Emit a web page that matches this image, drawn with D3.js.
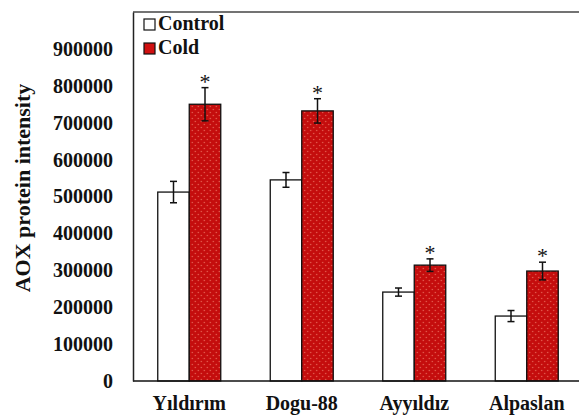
<!DOCTYPE html>
<html>
<head>
<meta charset="utf-8">
<script src="https://cdn.jsdelivr.net/npm/d3@7"></script>
<style>
  body { margin: 0; background: #fff; }
  text { font-family: "Liberation Serif", "Times New Roman", serif; font-weight: bold; fill: #111; }
</style>
</head>
<body>
<div id="chart"></div>
<script>
const cultivars = ["Yıldırım", "Dogu-88", "Ayyıldız", "Alpaslan"];
const groups = ["Control", "Cold"];
const controlValues = [512000, 545000, 241000, 176000];
const controlErrors = [29000, 20000, 11000, 15000];
const coldValues = [750000, 732000, 314000, 298000];
const coldErrors = [45000, 33000, 17000, 24000];
const coldSignificant = [true, true, true, true];
const yTicks = [0, 100000, 200000, 300000, 400000, 500000, 600000, 700000, 800000, 900000];

const width = 579, height = 416;
const margin = {top: 12, right: -4, bottom: 35, left: 133};

const svg = d3.select("#chart")
    .append("svg")
    .attr("width", width)
    .attr("height", height);

// dotted fill for the cold bars
const pattern = svg.append("defs").append("pattern")
    .attr("id", "dots")
    .attr("patternUnits", "userSpaceOnUse")
    .attr("width", 6)
    .attr("height", 6);
pattern.append("rect").attr("width", 6).attr("height", 6).attr("fill", "#c40d0d");
pattern.append("circle").attr("cx", 1.5).attr("cy", 1.5).attr("r", 0.7).attr("fill", "#e86a5a");
pattern.append("circle").attr("cx", 4.5).attr("cy", 4.5).attr("r", 0.7).attr("fill", "#e86a5a");

const x0 = d3.scaleBand()
    .domain(cultivars)
    .range([margin.left, width - margin.right])
    .paddingInner(0.44)
    .paddingOuter(0.22);

const x1 = d3.scaleBand()
    .domain(groups)
    .range([0, x0.bandwidth()]);

const y = d3.scaleLinear()
    .domain([0, 1000000])
    .range([height - margin.bottom, margin.top]);

const data = cultivars.map((c, i) => ({
    name: c,
    bars: [
        {group: "Control", value: controlValues[i], err: controlErrors[i], sig: false},
        {group: "Cold", value: coldValues[i], err: coldErrors[i], sig: coldSignificant[i]}
    ]
}));

// frame: top line
svg.append("line")
    .attr("x1", margin.left).attr("x2", width)
    .attr("y1", margin.top).attr("y2", margin.top)
    .attr("stroke", "#444").attr("stroke-width", 1.5);

const groupSel = svg.append("g")
    .selectAll("g")
    .data(data)
    .enter()
    .append("g")
    .attr("transform", d => "translate(" + x0(d.name) + ",0)");

groupSel.selectAll("rect")
    .data(d => d.bars)
    .enter()
    .append("rect")
    .attr("x", d => x1(d.group))
    .attr("y", d => y(d.value))
    .attr("width", x1.bandwidth())
    .attr("height", d => y(0) - y(d.value))
    .attr("fill", d => d.group === "Cold" ? "url(#dots)" : "#fff")
    .attr("stroke", "#111")
    .attr("stroke-width", 1.3);

// error bars
const errSel = groupSel.selectAll("g.err")
    .data(d => d.bars)
    .enter()
    .append("g")
    .attr("class", "err")
    .attr("transform", d => "translate(" + (x1(d.group) + x1.bandwidth() / 2) + ",0)");

errSel.append("line")
    .attr("y1", d => y(d.value + d.err))
    .attr("y2", d => y(d.value - d.err))
    .attr("stroke", "#111").attr("stroke-width", 1.5);
errSel.append("line")
    .attr("x1", -3.5).attr("x2", 3.5)
    .attr("y1", d => y(d.value + d.err)).attr("y2", d => y(d.value + d.err))
    .attr("stroke", "#111").attr("stroke-width", 1.5);
errSel.append("line")
    .attr("x1", -3.5).attr("x2", 3.5)
    .attr("y1", d => y(d.value - d.err)).attr("y2", d => y(d.value - d.err))
    .attr("stroke", "#111").attr("stroke-width", 1.5);

errSel.filter(d => d.sig)
    .append("text")
    .attr("y", d => y(d.value + d.err) + 1)
    .attr("text-anchor", "middle")
    .style("font-size", "22px")
    .style("font-weight", "normal")
    .text("*");

// axes
svg.append("g")
    .attr("transform", "translate(0," + y(0) + ")")
    .call(d3.axisBottom(x0).tickSize(0).tickPadding(15))
    .call(g => g.select(".domain").attr("stroke", "#111").attr("stroke-width", 1.5)
        .attr("d", "M" + margin.left + ",0H" + width))
    .call(g => g.selectAll("text").attr("font-family", null).attr("font-size", null)
        .style("font-size", "20px"));

svg.append("g")
    .attr("transform", "translate(" + margin.left + ",0)")
    .call(d3.axisLeft(y).tickValues(yTicks).tickSize(0).tickPadding(20).tickFormat(d3.format("d")))
    .call(g => g.select(".domain").attr("stroke", "#222").attr("stroke-width", 1.5))
    .call(g => g.selectAll("text").attr("font-family", null).attr("font-size", null)
        .style("font-size", "20px"));

// y axis title
svg.append("text")
    .attr("transform", "translate(30,188) rotate(-90)")
    .attr("text-anchor", "middle")
    .style("font-size", "22px")
    .text("AOX protein intensity");

// legend
const legend = svg.append("g")
    .selectAll("g")
    .data(groups)
    .enter()
    .append("g")
    .attr("transform", (d, i) => "translate(144," + (19 + i * 24) + ")");

legend.append("rect")
    .attr("width", 11).attr("height", 11)
    .attr("fill", d => d === "Cold" ? "#d01010" : "#fff")
    .attr("stroke", "#111").attr("stroke-width", 1.2);

legend.append("text")
    .attr("x", 14).attr("y", 11)
    .style("font-size", "20px")
    .text(d => d);
</script>
</body>
</html>
